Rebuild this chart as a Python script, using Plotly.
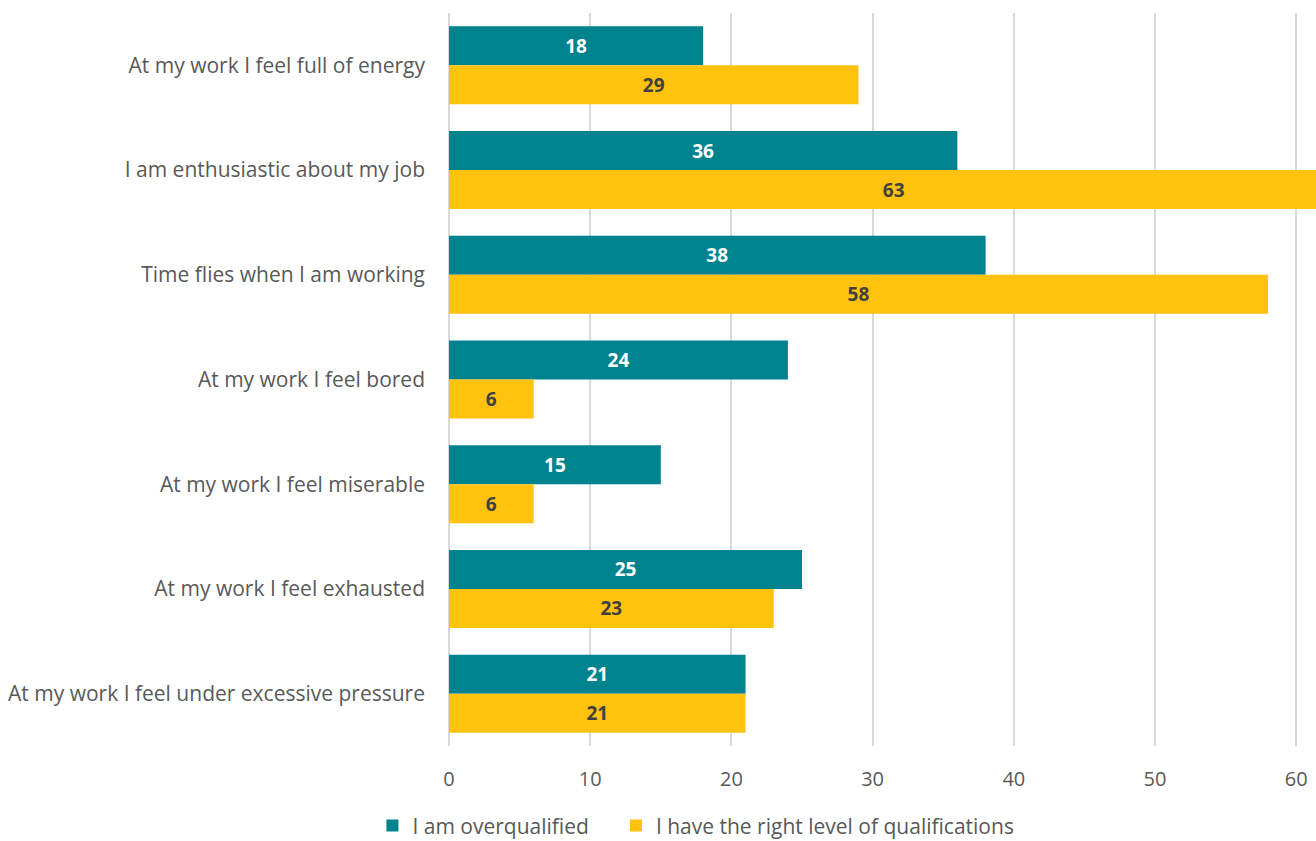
import plotly.graph_objects as go

categories = [
    "At my work I feel full of energy",
    "I am enthusiastic about my job",
    "Time flies when I am working",
    "At my work I feel bored",
    "At my work I feel miserable",
    "At my work I feel exhausted",
    "At my work I feel under excessive pressure",
]
overqualified = [18, 36, 38, 24, 15, 25, 21]
right_level = [29, 63, 58, 6, 6, 23, 21]
series_names = ["I am overqualified", "I have the right level of qualifications"]
x_ticks = [0, 10, 20, 30, 40, 50, 60]

TEAL = "#00838F"
YELLOW = "#FFC20E"
FONT = "'Open Sans', Lato, sans-serif"

fig = go.Figure()
fig.add_trace(go.Bar(
    y=categories, x=overqualified, orientation="h", name=series_names[0],
    marker=dict(color=TEAL, line=dict(width=0)),
    text=overqualified, textposition="inside", insidetextanchor="middle",
    textangle=0, legend="legend",
    textfont=dict(color="white", size=19, family=FONT, weight="bold"),
))
fig.add_trace(go.Bar(
    y=categories, x=right_level, orientation="h", name=series_names[1],
    marker=dict(color=YELLOW, line=dict(width=0)),
    text=right_level, textposition="inside", insidetextanchor="middle",
    textangle=0, legend="legend2",
    textfont=dict(color="#404040", size=19, family=FONT, weight="bold"),
))

legend_common = dict(
    orientation="h", xref="container", yref="container",
    xanchor="left", y=0.018, yanchor="middle",
    font=dict(size=21, color="#595959"), itemwidth=30,
    bgcolor="rgba(0,0,0,0)",
)

fig.update_layout(
    width=1316, height=841,
    margin=dict(l=449, r=0, t=13, b=95),
    barmode="group", bargap=0.255, bargroupgap=0,
    plot_bgcolor="white", paper_bgcolor="white",
    font=dict(family=FONT, size=21, color="#595959"),
    uniformtext=dict(mode=False),
    legend=dict(x=0.283, **legend_common),
    legend2=dict(x=0.468, **legend_common),
    showlegend=True,
)
fig.update_xaxes(
    range=[0, 61.4], tickvals=x_ticks, showgrid=True, gridcolor="#D9D9D9",
    gridwidth=2, zeroline=True, zerolinecolor="#D9D9D9", zerolinewidth=2,
    showline=False, ticklabelstandoff=19, tickfont=dict(size=20, color="#595959"),
)
fig.update_yaxes(
    categoryorder="array", categoryarray=categories, autorange="reversed",
    showgrid=False, showline=False, ticklabelstandoff=23,
    tickfont=dict(size=21, color="#595959"),
)
fig.write_html("out.html")
